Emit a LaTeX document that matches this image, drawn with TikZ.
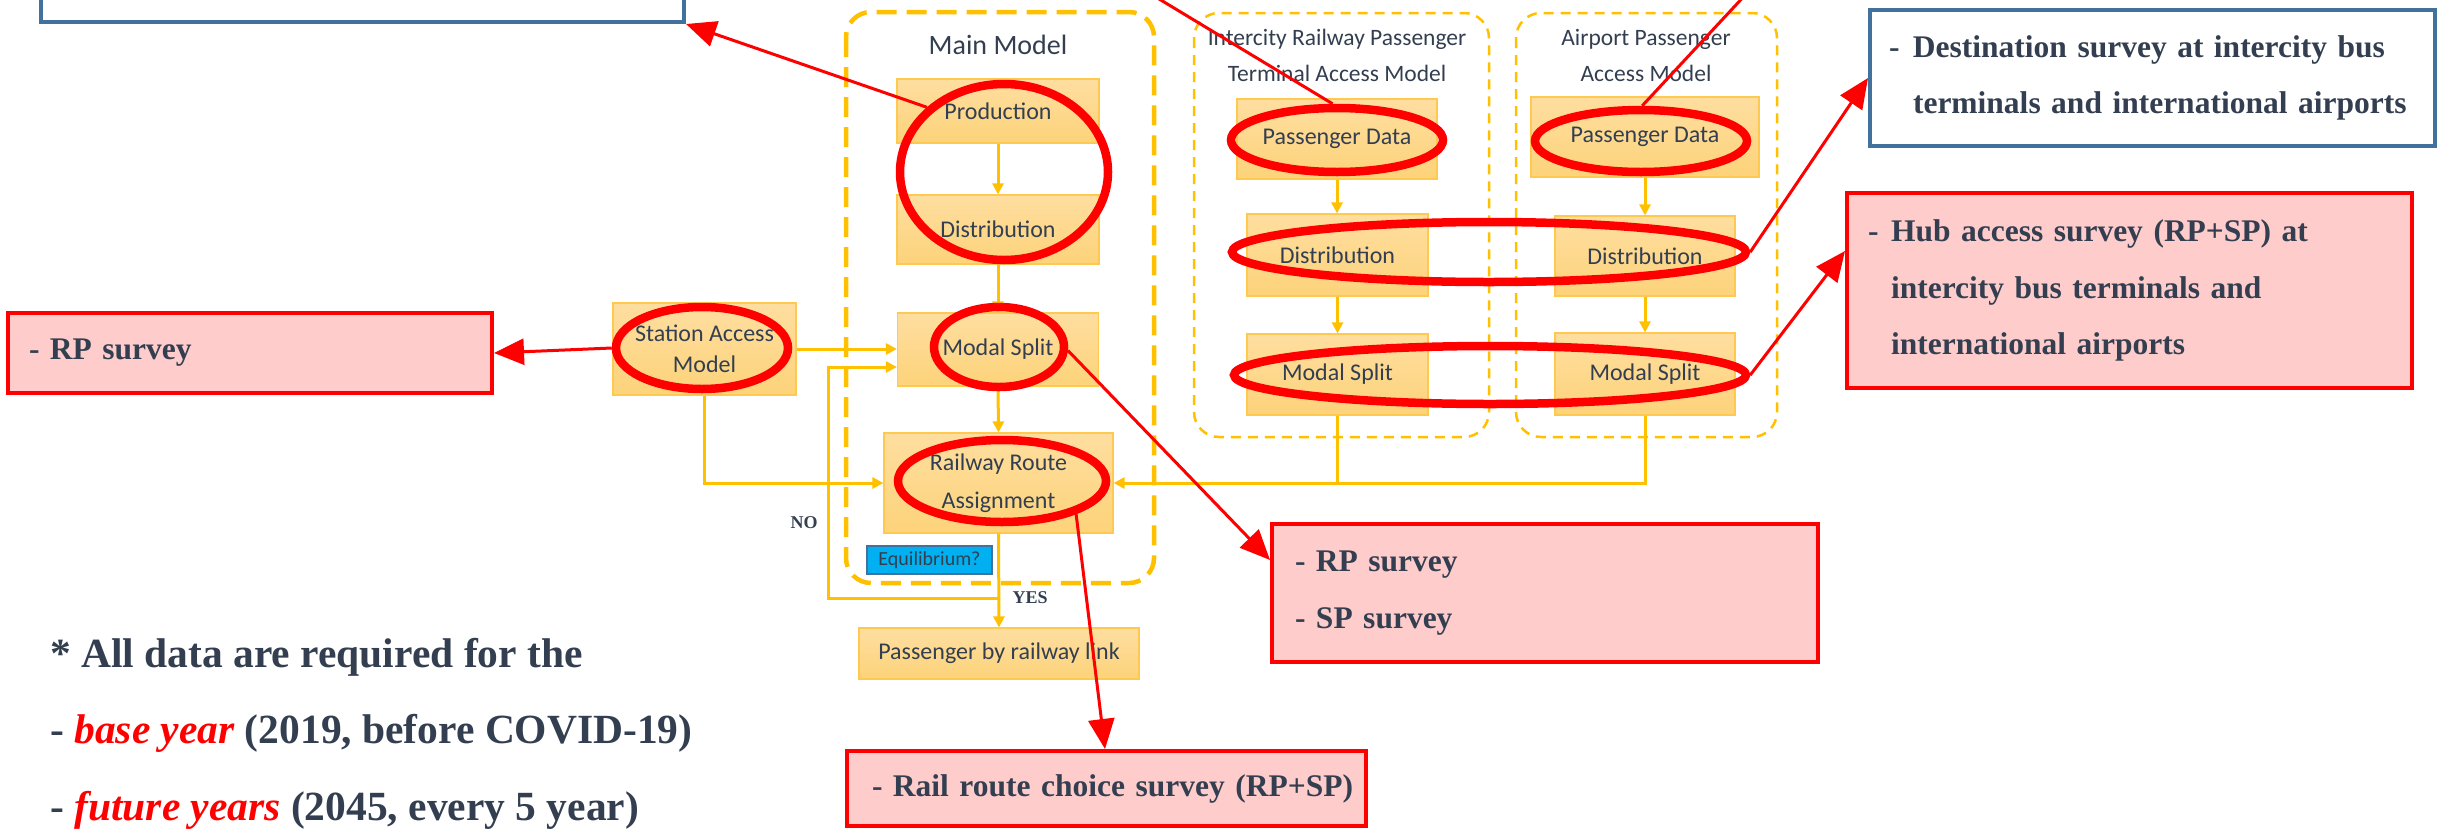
\documentclass[tikz,border=0pt]{standalone}
\usepackage{fontspec}
\setmainfont{Liberation Serif}
\newfontfamily\boxfont{Carlito}
\usetikzlibrary{shapes.geometric,arrows.meta,calc}
\definecolor{navy}{HTML}{333F50}
\definecolor{amber}{HTML}{FFC000}
\definecolor{boxtop}{HTML}{FEDEA0}
\definecolor{boxbot}{HTML}{FDD37A}
\definecolor{boxedge}{HTML}{FFC94F}
\definecolor{pinkfill}{HTML}{FFCCCC}
\definecolor{bluedge}{HTML}{41719C}
\definecolor{cyanfill}{HTML}{00B0F0}
\begin{document}
\begin{tikzpicture}[x=1pt,y=-1pt,
  sz/.style n args={2}{minimum width=#1pt,minimum height=#2pt},
  mbox/.style={draw=boxedge,line width=1.2pt,top color=boxtop,bottom color=boxbot,inner sep=0pt,text=navy,align=center,font=\boxfont\fontsize{24}{31}\selectfont},
  redell/.style={draw=red,line width=8.5pt,ellipse,inner sep=0pt},
  redarr/.style={draw=red,line width=3pt,-{Triangle[length=30pt,width=26pt]}},
  conn/.style={draw=amber,line width=3pt,-{Triangle[length=11pt,width=11pt]}},
  plainconn/.style={draw=amber,line width=3pt},
  bigdash/.style={draw=amber,line width=4.5pt,dash pattern=on 20pt off 10pt,rounded corners=25pt},
  smalldash/.style={draw=amber,line width=2.5pt,dash pattern=on 10pt off 7pt,rounded corners=25pt},
  survey/.style={line width=4pt,inner ysep=0pt,text=navy,align=left,font=\bfseries\fontsize{31.5}{56.5}\selectfont},
  pinkbox/.style={survey,draw=red,fill=pinkfill},
  bluebox/.style={survey,draw=bluedge,fill=white},
  title/.style={text=navy,align=center,inner sep=0pt,font=\boxfont\fontsize{23.5}{36}\selectfont},
  flag/.style={text=navy,inner sep=0pt,font=\bfseries\fontsize{18}{20}\selectfont}
]
\useasboundingbox (0,0) rectangle (2440,828);
\clip (0,0) rectangle (2440,828);

% containers
\draw[bigdash] (846,12) rectangle (1154,583);
\draw[smalldash] (1194,13) rectangle (1489,437);
\draw[smalldash] (1516,13) rectangle (1777,437);
\node[title,font=\boxfont\fontsize{28}{34}\selectfont] (tmain) at (998,45) {Main Model};
\node[title] (tinter) at (1337,55) {Intercity Railway Passenger\\Terminal Access Model};
\node[title] (tair) at (1646,55) {Airport Passenger\\Access Model};

% model boxes
\node[mbox,sz={202}{64}] (prod) at (998,111) {Production};
\node[mbox,sz={202}{69}] (distM) at (998,229.5) {Distribution};
\node[mbox,sz={201}{73}] (msM) at (998,349.5) {Modal Split};
\node[mbox,sz={229}{100},font=\boxfont\fontsize{24}{38}\selectfont] (rraM) at (998.5,483) {Railway Route\\Assignment};
\node[mbox,sz={280}{51}] (pbl) at (999,653.5) {Passenger by railway link};
\node[draw=bluedge,line width=1.5pt,fill=cyanfill,sz={125}{28},inner sep=0pt,text=navy,font=\boxfont\fontsize{20}{24}\selectfont] (equil) at (929.5,560) {Equilibrium?};
\node[mbox,sz={183}{92}] (sam) at (704.5,349) {Station Access\\Model};
\node[mbox,sz={200}{80}] (pdI) at (1337,139) {Passenger Data};
\node[mbox,sz={181}{82}] (distI) at (1337.5,255) {Distribution};
\node[mbox,sz={181}{81}] (msI) at (1337.5,374.5) {Modal Split};
\node[mbox,sz={228}{80}] (pdA) at (1645,137) {Passenger Data};
\node[mbox,sz={180}{80}] (distA) at (1645,256) {Distribution};
\node[mbox,sz={180}{82}] (msA) at (1645,374) {Modal Split};

% orange connectors
\draw[conn] (prod.south) -- (distM.north);
\draw[conn] (distM.south) -- (msM.north);
\draw[conn] (msM.south) -- (rraM.north);
\draw[conn] (rraM.south) -- (pbl.north);
\draw[conn] (pdI.south) -- (pdI.south |- distI.north);
\draw[conn] (distI.south) -- (msI.north);
\draw[conn] (pdA.south) -- (pdA.south |- distA.north);
\draw[conn] (distA.south) -- (msA.north);
\draw[conn] (sam.east) -- (sam.east -| msM.west);
\draw[conn] (sam.south) |- (rraM.west);
\draw[conn] (msA.south) |- (rraM.east);
\draw[plainconn] (msI.south) -- (msI.south |- rraM.east);
\coordinate (loopA) at (998.5,598);
\coordinate (loopB) at (828,367);
\draw[conn] (loopA) -| (loopB) -- (loopB -| msM.west);
\node[flag] (no) at (804,523) {NO};
\node[flag] (yes) at (1030,598) {YES};

% red ellipses
\node[redell,sz={208}{176}] (eprod) at (1004,172) {};
\node[redell,sz={130}{80}] (emsM) at (999,347) {};
\node[redell,sz={172}{82}] (esam) at (702,348) {};
\node[redell,sz={208}{82}] (erra) at (1002,481) {};
\node[redell,sz={212}{64}] (epdI) at (1337,140) {};
\node[redell,sz={212}{62}] (epdA) at (1641,141) {};
\node[redell,sz={514}{60}] (edist) at (1489,252) {};
\node[redell,sz={512}{58}] (emsB) at (1490,375) {};

% survey boxes
\node[bluebox,sz={643}{82}] (bluetl) at (362.5,-19) {};
\node[pinkbox,sz={484}{80},inner xsep=21pt,text width=442pt] (rpL) at (250,353) {\mbox{- RP survey}};
\node[pinkbox,sz={546}{138},inner xsep=23pt,text width=500pt] (rpsp) at (1545,593) {\mbox{- RP survey}\\\mbox{- SP survey}};
\node[pinkbox,sz={519}{75},inner xsep=25pt,text width=469pt] (rail) at (1106.5,788.5) {\mbox{- Rail route choice survey (RP+SP)}};
\node[pinkbox,sz={565}{195},inner xsep=21pt,text width=523pt] (hub) at (2129.5,290.5) {\mbox{\makebox[23pt][l]{-}Hub access survey (RP+SP) at}\\\mbox{\hspace*{23pt}intercity bus terminals and}\\\mbox{\hspace*{23pt}international airports}};
\node[bluebox,sz={565}{136},inner xsep=19pt,text width=527pt] (dest) at (2152.5,78) {\mbox{\makebox[24pt][l]{-}Destination survey at intercity bus}\\\mbox{\hspace*{24pt}terminals and international airports}};

% red arrows
\coordinate (offI) at (1078,-50);
\coordinate (offA) at (1787,-50);
\draw[redarr] (eprod.140) -- (bluetl.south east);
\draw[redarr] (epdI.97) -- (offI);
\draw[redarr] (epdA.88) -- (offA);
\draw[redarr] (edist.east) -- ([yshift=-70pt]dest.north west);
\draw[redarr] (emsB.east) -- ([yshift=-60pt]hub.north west);
\draw[redarr] (emsM.-3) -- ([yshift=-38pt]rpsp.north west);
\draw[redarr] (erra.-24) -- ([xshift=260pt]rail.north west);
\draw[redarr] (esam.west) -- (rpL.east);

% note
\node[anchor=west,inner sep=0pt,align=left,text=navy,font=\bfseries\fontsize{41.5}{76.5}\selectfont] (note) at (50,733.5)
 {* All data are required for the\\- {\color{red}\itshape base year} (2019, before COVID-19)\\- {\color{red}\itshape future years} (2045, every 5 year)};
\end{tikzpicture}
\end{document}
